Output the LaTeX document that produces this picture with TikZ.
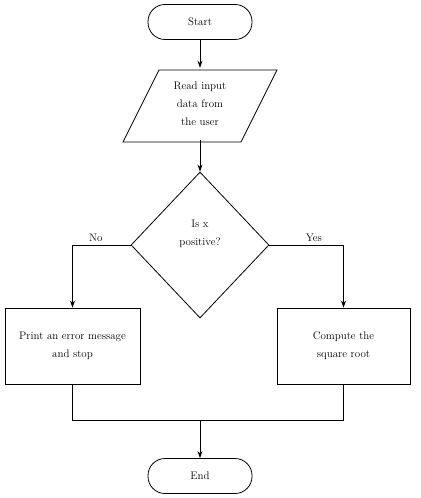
\documentclass[tikz,border=0pt]{standalone}
\usetikzlibrary{shapes.geometric,arrows.meta}
\begin{document}
\begin{tikzpicture}[x=1bp,y=-1bp,
  txt/.style={font=\fontsize{11}{18}\selectfont, align=center},
  term/.style={txt, draw, line width=0.8pt, rounded corners=17bp, minimum width=104bp, minimum height=35bp, inner sep=0},
  procbox/.style={txt, draw, line width=0.8pt, minimum height=76bp, inner sep=0},
  decision/.style={draw, line width=0.8pt, diamond, aspect=0.945, minimum width=138bp, minimum height=146bp, inner sep=0},
  conn/.style={line width=0.8pt, -{Stealth[length=7bp,width=5bp]}},
  plain/.style={line width=0.8pt},
  lbl/.style={font=\fontsize{11}{13}\selectfont}]
\useasboundingbox (0,0) rectangle (420,498);
\fill[white] (0,0) rectangle (420,498);

\node[term] (start) at (200,22) {Start};

% parallelogram input
\node[txt, minimum width=118bp, minimum height=72bp, inner sep=0] (inp) at (200,104) {Read input\\data from\\the user};
\draw[line width=0.8pt] (159,70) -- (277,70) -- (241,142) -- (123,142) -- cycle;

\node[decision] (dec) at (200,245) {};
\node[txt] (dectext) at (200,234) {Is x\\positive?};

\node[procbox, minimum width=135bp] (left) at (72.5,346) {Print an error message\\and stop};
\node[procbox, minimum width=133bp] (right) at (343.5,346) {Compute the\\square root};

\coordinate (mrg) at (200,420);
\node[term] (end) at (200,476) {End};

\draw[conn] (start) -- (inp.north);
\draw[conn] (inp.south) -- (dec.north);
\draw[conn] (dec.west) -| node[lbl, pos=0.3, above] {No} (left.north);
\draw[conn] (dec.east) -| node[lbl, pos=0.3, above] {Yes} (right.north);
\draw[plain] (left.south) |- (mrg);
\draw[plain] (right.south) |- (mrg);
\draw[conn] (mrg) -- (end.north);
\end{tikzpicture}
\end{document}
